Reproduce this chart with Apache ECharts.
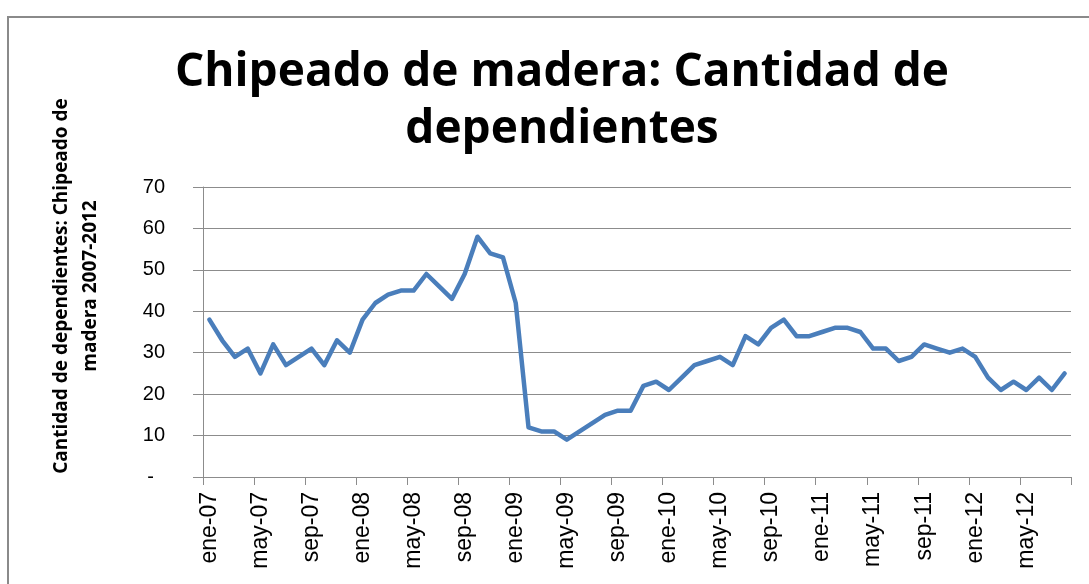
<!DOCTYPE html>
<html>
<head>
<meta charset="utf-8">
<script src="https://cdn.jsdelivr.net/npm/echarts@6/dist/echarts.min.js"></script>
<style>
  html, body { margin: 0; padding: 0; background: #fff; }
  #chart { width: 1089px; height: 584px; }
</style>
</head>
<body>
<div id="chart"></div>
<script>
// months ene-07 .. ago-12
const monthNames = ["ene", "feb", "mar", "abr", "may", "jun", "jul", "ago", "sep", "oct", "nov", "dic"];
const years = ["07", "08", "09", "10", "11", "12"];

const dependientes = [
  38, 33, 29, 31, 25, 32, 27, 29, 31, 27, 33, 30, // 2007
  38, 42, 44, 45, 45, 49, 46, 43, 49, 58, 54, 53, // 2008
  42, 12, 11, 11, 9, 11, 13, 15, 16, 16, 22, 23,  // 2009
  21, 24, 27, 28, 29, 27, 34, 32, 36, 38, 34, 34, // 2010
  35, 36, 36, 35, 31, 31, 28, 29, 32, 31, 30, 31, // 2011
  29, 24, 21, 23, 21, 24, 21, 25                  // 2012 (ene-ago)
];

const categories = [];
years.forEach(y => monthNames.forEach(m => categories.push(m + "-" + y)));
categories.length = dependientes.length;

const yTicks = [0, 10, 20, 30, 40, 50, 60, 70];

const chart = echarts.init(document.getElementById("chart"));

const options = {
  animation: false,
  title: {
    text: "Chipeado de madera: Cantidad de\ndependientes",
    left: 557,
    textAlign: "center",
    top: 39,
    textStyle: {
      fontFamily: "Open Sans",
      fontWeight: "bold",
      fontSize: 46,
      lineHeight: 57,
      color: "#000",
    },
  },
  graphic: [
    {
      type: "rect",
      shape: { x: 8, y: 17, width: 1200, height: 700 },
      style: { fill: "none", stroke: "#8a8a8a", lineWidth: 2 },
      silent: true,
    },
  ],
  grid: {
    left: 203,
    right: 18,
    top: 187,
    bottom: 107,
  },
  xAxis: {
    type: "category",
    data: categories,
    boundaryGap: true,
    axisLine: { show: true, lineStyle: { color: "#8c8c8c", width: 1 } },
    axisTick: { show: true, interval: 3, length: 8, lineStyle: { color: "#8c8c8c" } },
    axisLabel: {
      interval: 3,
      rotate: 90,
      margin: 15,
      fontFamily: "Liberation Sans",
      fontSize: 23,
      color: "#000",
    },
    splitLine: { show: false },
  },
  yAxis: {
    type: "value",
    min: yTicks[0],
    max: yTicks[yTicks.length - 1],
    interval: 10,
    name: "Cantidad de dependientes: Chipeado de\nmadera 2007-2012",
    nameLocation: "middle",
    nameGap: 98,
    nameTextStyle: {
      fontFamily: "Open Sans",
      fontWeight: "bold",
      fontSize: 19,
      lineHeight: 29,
      color: "#000",
      padding: [0, 0, 0, 92],
    },
    axisLine: { show: true, lineStyle: { color: "#8c8c8c", width: 1 } },
    axisTick: { show: true, length: 10, lineStyle: { color: "#8c8c8c" } },
    axisLabel: {
      margin: 38,
      fontFamily: "Liberation Sans",
      fontSize: 20,
      color: "#000",
      formatter: v => (v === 0 ? "-  " : String(v)),
    },
    splitLine: { show: true, lineStyle: { color: "#8c8c8c", width: 1 } },
  },
  series: [
    {
      type: "line",
      data: dependientes,
      symbol: "none",
      lineStyle: { color: "#4a7ebb", width: 4.5, join: "round", cap: "round" },
    },
  ],
};

chart.setOption(options);
</script>
</body>
</html>
